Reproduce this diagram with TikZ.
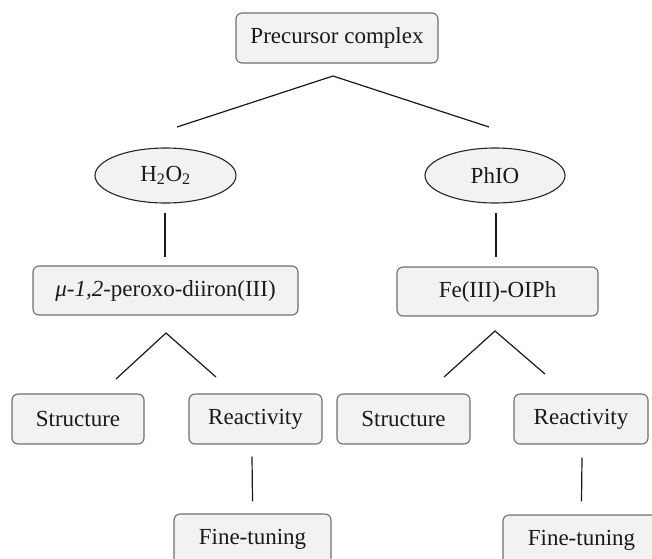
\documentclass[tikz,border=0pt]{standalone}
\usepackage{fontspec}
\setmainfont{Liberation Serif}
\usetikzlibrary{shapes.geometric}
\definecolor{boxfill}{HTML}{F2F2F2}
\definecolor{boxline}{HTML}{6E6E6E}
\definecolor{txt}{HTML}{1A1A1A}
\begin{document}
\begin{tikzpicture}[x=1pt,y=-1pt,
  rbox/.style={draw=boxline,fill=boxfill,rounded corners=6pt,line width=1.1pt,
    minimum height=50pt,inner sep=0pt,text=txt,font=\fontsize{23}{27}\selectfont},
  oval/.style={ellipse,draw=black!85,fill=boxfill,line width=1.1pt,inner sep=0pt,
    minimum height=55pt,text=txt,font=\fontsize{23}{27}\selectfont},
  conn/.style={line width=1.2pt,draw=black!90}]
\useasboundingbox (0,0) rectangle (652,558);
\clip (0,0) rectangle (652,558);
% nodes
\node[rbox,minimum width=202pt] (pre) at (337,38) {Precursor complex};
\node[oval,minimum width=141pt] (h2o2) at (165.5,175.5) {H\textsubscript{2}O\textsubscript{2}};
\node[oval,minimum width=140pt] (phio) at (495,175.5) {PhIO};
\node[rbox,minimum width=265pt,minimum height=49pt] (mu) at (165.5,290.5) {\textit{μ-1,2}-peroxo-diiron(III)};
\node[rbox,minimum width=201pt,minimum height=49pt] (fe) at (497.5,291.5) {Fe(III)-OIPh};
\node[rbox,minimum width=132pt] (s1) at (78,419) {Structure};
\node[rbox,minimum width=133pt] (r1) at (255.5,419) {Reactivity};
\node[rbox,minimum width=133pt] (s2) at (403.5,419) {Structure};
\node[rbox,minimum width=134pt] (r2) at (581,419) {Reactivity};
\node[rbox,minimum width=157pt] (f1) at (252.5,539) {Fine-tuning};
\node[rbox,minimum width=157pt] (f2) at (581.5,540) {Fine-tuning};
% connector end points
\coordinate (a0) at (333,76);
\coordinate (a0l) at (177,127);
\coordinate (a0r) at (489,127);
\coordinate (a1) at (166,333);
\coordinate (a1l) at (116,379);
\coordinate (a1r) at (216,377);
\coordinate (a2) at (495,331);
\coordinate (a2l) at (444,377);
\coordinate (a2r) at (545,374);
% connectors
\draw[conn] (a0l) -- (a0) -- (a0r);
\draw[conn] ([xshift=-0.5pt,yshift=-9pt]h2o2.south) -- ([xshift=-0.5pt,yshift=8pt]mu.north);
\draw[conn] ([xshift=1pt,yshift=-9pt]phio.south) -- ([xshift=-1.5pt,yshift=9pt]fe.north);
\draw[conn] ([xshift=-3.5pt,yshift=-12pt]r1.south) -- ([yshift=12pt]f1.north);
\draw[conn] ([xshift=1pt,yshift=-13pt]r2.south) -- ([yshift=13pt]f2.north);
\draw[conn] (a1l) -- (a1) -- (a1r);
\draw[conn] (a2l) -- (a2) -- (a2r);
\end{tikzpicture}
\end{document}
